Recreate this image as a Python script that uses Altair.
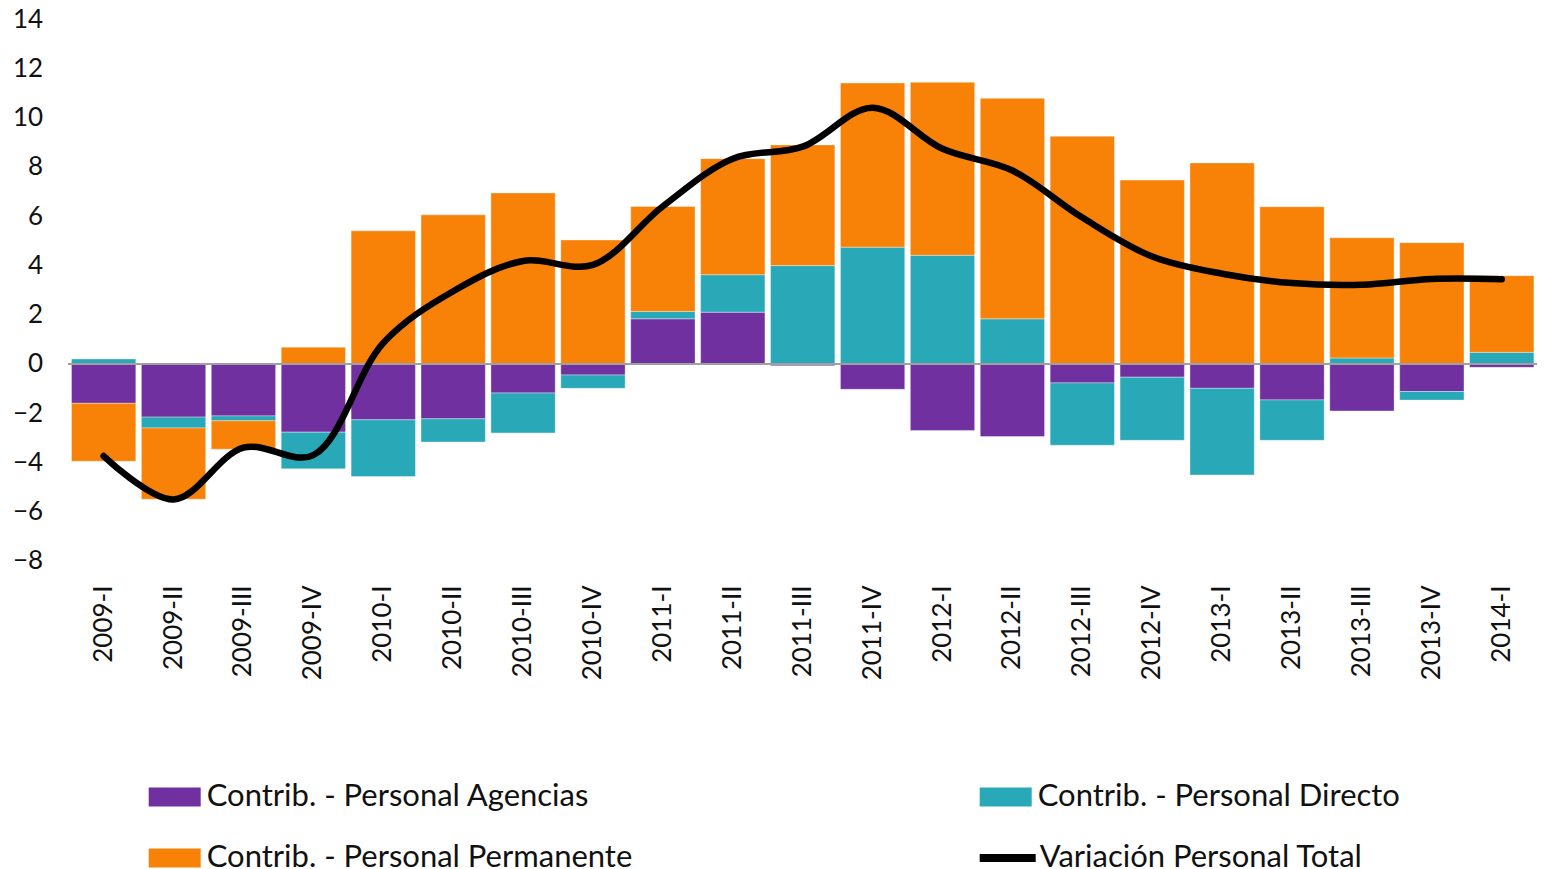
import altair as alt
import pandas as pd

cats = ["2009-I", "2009-II", "2009-III", "2009-IV",
        "2010-I", "2010-II", "2010-III", "2010-IV",
        "2011-I", "2011-II", "2011-III", "2011-IV",
        "2012-I", "2012-II", "2012-III", "2012-IV",
        "2013-I", "2013-II", "2013-III", "2013-IV",
        "2014-I"]

agencias = [-1.60, -2.16, -2.11, -2.77, -2.27, -2.23, -1.18, -0.45, 1.83, 2.10, -0.07,
            -1.03, -2.70, -2.95, -0.77, -0.54, -0.99, -1.46, -1.91, -1.12, -0.14]
directo = [0.20, -0.44, -0.20, -1.49, -2.30, -0.94, -1.62, -0.54, 0.30, 1.52, 3.99,
           4.74, 4.41, 1.83, -2.53, -2.56, -3.52, -1.64, 0.24, -0.35, 0.47]
permanente = [-2.35, -2.89, -1.15, 0.68, 5.40, 6.05, 6.94, 5.03, 4.26, 4.71, 4.90,
              6.66, 7.02, 8.95, 9.24, 7.46, 8.16, 6.38, 4.88, 4.92, 3.11]
total = [-3.74, -5.50, -3.40, -3.70, 0.85, 2.95, 4.18, 4.02, 6.40, 8.33, 8.82,
         10.40, 8.73, 7.85, 5.94, 4.36, 3.66, 3.28, 3.21, 3.45, 3.44]

series_names = ["Contrib. - Personal Agencias", "Contrib. - Personal Directo",
                "Contrib. - Personal Permanente"]
series_colors = ["#7030A0", "#29A8B7", "#F88108"]
line_name = "Variación Personal Total"

rows = []
for i, c in enumerate(cats):
    for k, (name, vals) in enumerate(zip(series_names, [agencias, directo, permanente])):
        rows.append({"cat": c, "series": name, "value": vals[i], "ord": k})
bars_df = pd.DataFrame(rows)
line_df = pd.DataFrame({"cat": cats, "value": total, "name": [line_name] * len(cats)})

FONT = "Lato"
TXT = "#111111"

xenc = alt.X("cat:N", sort=cats, title=None,
             scale=alt.Scale(paddingInner=0.08, paddingOuter=0.04),
             axis=alt.Axis(labelAngle=-90, labelFontSize=26, labelFont=FONT, labelColor=TXT,
                           ticks=False, domain=False, labelPadding=24))
yscale = alt.Scale(domain=[-8, 14], nice=False)
yaxis = alt.Axis(values=list(range(-8, 16, 2)), labelFontSize=26, labelFont=FONT,
                 labelColor=TXT, ticks=False, domain=False, grid=False, labelPadding=26)

rect_path = "M-1,-0.365H1V0.365H-1Z"

bars = alt.Chart(bars_df).mark_bar(stroke="white", strokeWidth=0.6, strokeOpacity=0.6).encode(
    x=xenc,
    y=alt.Y("value:Q", stack="zero", scale=yscale, axis=yaxis, title=None),
    color=alt.Color("series:N",
                    scale=alt.Scale(domain=series_names, range=series_colors),
                    legend=alt.Legend(title=None, orient="none", legendX=80, legendY=752,
                                      direction="horizontal",
                                      columns=2, columnPadding=347, rowPadding=20,
                                      symbolType=rect_path, symbolSize=2704,
                                      symbolStrokeWidth=0, labelFontSize=31,
                                      labelFont=FONT, labelColor=TXT, labelOffset=6,
                                      labelLimit=1000, padding=0)),
    order=alt.Order("ord:Q"),
)

zero = alt.Chart(line_df).mark_rule(color="#A0A0A0", strokeWidth=2).encode(
    y=alt.datum(0)
)

line = alt.Chart(line_df).mark_line(strokeWidth=6.5, strokeCap="round", strokeJoin="round",
                                     interpolate="catmull-rom").encode(
    x=alt.X("cat:N", sort=cats),
    y=alt.Y("value:Q", scale=yscale),
    stroke=alt.Stroke("name:N", scale=alt.Scale(domain=[line_name], range=["#000000"]),
                      legend=alt.Legend(title=None, orient="none", legendX=907, legendY=807,
                                        symbolType="stroke", symbolSize=3136,
                                        symbolStrokeWidth=8, labelFontSize=31,
                                        labelFont=FONT, labelColor=TXT, labelOffset=0,
                                        labelLimit=1000, padding=0)),
)

chart = alt.layer(bars, zero, line).properties(
    width=1468, height=542,
    padding={"left": 60.7, "top": 11, "right": 0, "bottom": 308},
    autosize=alt.AutoSizeParams(type="none"),
    background="white",
).configure_view(stroke=None)

chart.save("out.html", embed_options={"renderer": "svg", "actions": False})
